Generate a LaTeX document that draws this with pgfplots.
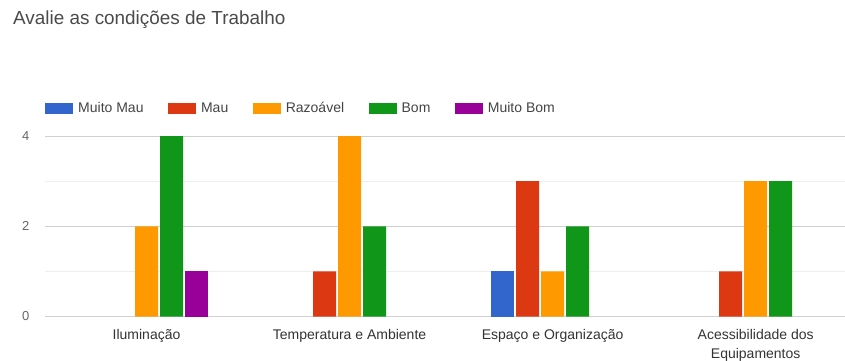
\documentclass[border=0pt]{standalone}
\usepackage{fontspec}
\setmainfont{Liberation Sans}
\usepackage{pgfplots}
\pgfplotsset{compat=1.18}

\definecolor{gBlue}{HTML}{3366CC}
\definecolor{gRed}{HTML}{DC3912}
\definecolor{gOrange}{HTML}{FF9900}
\definecolor{gGreen}{HTML}{109618}
\definecolor{gPurple}{HTML}{990099}
\definecolor{titlegray}{HTML}{4A4A4A}
\definecolor{leggray}{HTML}{444444}
\definecolor{labgray}{HTML}{333333}
\definecolor{tickgray}{HTML}{666666}
\definecolor{gridmaj}{HTML}{D0D0D0}
\definecolor{gridmin}{HTML}{EEEEEE}
\definecolor{basegray}{HTML}{777777}

\begin{document}
\begin{tikzpicture}[x=1pt,y=1pt]
\useasboundingbox (0,0) rectangle (845,360);
\node[anchor=base west, inner sep=0pt, text=titlegray,
      font=\fontsize{18.9}{22}\selectfont] at (13,336) {Avalie as condições de Trabalho};
\begin{axis}[
  at={(45pt,43.5pt)}, anchor=south west,
  width=800pt, height=189.4pt, scale only axis,
  xmin=-0.5, xmax=3.44, ymin=0, ymax=4.2,
  ybar=2pt, bar width=23pt,
  % empty answers get no bar at all
  restrict y to domain=0.5:100,
  axis line style={draw=none},
  tick style={draw=none},
  ytick={0,2,4}, minor ytick={1,3},
  ymajorgrids, yminorgrids,
  major grid style={gridmaj, line width=0.8pt},
  minor grid style={gridmin, line width=0.8pt},
  extra y ticks={0}, extra y tick labels={},
  extra y tick style={grid style={basegray, line width=1pt}},
  xtick={0,1,2,3},
  xticklabels={Iluminação, Temperatura e Ambiente, Espaço e Organização, {Acessibilidade dos\\Equipamentos}},
  xticklabel style={font=\fontsize{14}{19}\selectfont, text=labgray, align=center, yshift=-5pt},
  yticklabel style={font=\fontsize{13}{15}\selectfont, text=tickgray, xshift=-12pt},
  /pgf/number format/assume math mode=true,
  legend columns=5,
  legend style={at={(0,1.1008)}, anchor=west, draw=none, fill=none, inner sep=0pt,
    font=\fontsize{14}{16}\selectfont, text=leggray,
    nodes={inner xsep=5pt, inner ysep=0pt},
    /tikz/every even column/.append style={column sep=19.5pt}},
  legend image code/.code={\fill[#1] (0pt,-5.5pt) rectangle (28pt,5.5pt);},
]
\addplot[fill=gBlue, draw=none] coordinates {(0,0) (1,0) (2,1) (3,0)};
\addplot[fill=gRed, draw=none] coordinates {(0,0) (1,1) (2,3) (3,1)};
\addplot[fill=gOrange, draw=none] coordinates {(0,2) (1,4) (2,1) (3,3)};
\addplot[fill=gGreen, draw=none] coordinates {(0,4) (1,2) (2,2) (3,3)};
\addplot[fill=gPurple, draw=none] coordinates {(0,1) (1,0) (2,0) (3,0)};
\legend{Muito Mau, Mau, Razoável, Bom, Muito Bom}
\end{axis}
\end{tikzpicture}
\end{document}
